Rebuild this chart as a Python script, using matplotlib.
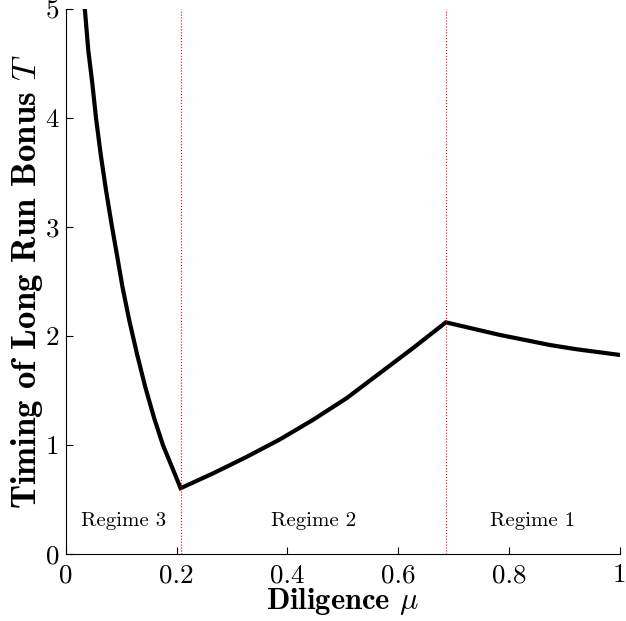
import matplotlib
matplotlib.use("Agg")
import matplotlib.pyplot as plt

# Werte
mu_r3 = [0.034, 0.0403, 0.0475, 0.0542, 0.0626, 0.0722, 0.0825, 0.0915, 0.102,
         0.114, 0.128, 0.143, 0.159, 0.175, 0.192, 0.207]
T_r3 = [5.0, 4.62, 4.32, 4.0, 3.67, 3.34, 3.02, 2.76, 2.45,
        2.15, 1.84, 1.535, 1.25, 1.0, 0.79, 0.603]

mu_r2 = [0.207, 0.266, 0.326, 0.386, 0.446, 0.507, 0.567, 0.627, 0.686]
T_r2 = [0.603, 0.74, 0.89, 1.05, 1.23, 1.43, 1.66, 1.89, 2.125]

mu_r1 = [0.686, 0.783, 0.874, 0.922, 1.0]
T_r1 = [2.125, 2.01, 1.917, 1.878, 1.826]

grenzen = [0.207, 0.686]
regime_namen = ["Regime 3", "Regime 2", "Regime 1"]
regime_x = [0.1035, 0.4465, 0.843]

xticks = [0, 0.2, 0.4, 0.6, 0.8, 1]
xtick_labels = ["0", "0.2", "0.4", "0.6", "0.8", "1"]
yticks = [0, 1, 2, 3, 4, 5]

plt.rcParams["font.family"] = "serif"
plt.rcParams["font.serif"] = ["cmr10"]
plt.rcParams["mathtext.fontset"] = "cm"
plt.rcParams["axes.formatter.use_mathtext"] = True

fig = plt.figure(figsize=(6.26, 6.21), dpi=100)
ax = fig.add_axes([0.1054, 0.108, 0.8846, 0.8775])

mu = mu_r3 + mu_r2[1:] + mu_r1[1:]
T = T_r3 + T_r2[1:] + T_r1[1:]
ax.plot(mu, T, color="black", lw=3, solid_joinstyle="miter")

for g in grenzen:
    ax.axvline(g, color="red", lw=0.8, ls=":")

for name, xr in zip(regime_namen, regime_x):
    ax.text(xr, 0.3, name, ha="center", va="center", fontsize=15)

ax.set_xlim(0, 1)
ax.set_ylim(0, 5)
ax.set_xticks(xticks)
ax.set_xticklabels(xtick_labels)
ax.set_yticks(yticks)
ax.set_yticklabels([str(v) for v in yticks])
ax.tick_params(direction="in", length=5, labelsize=19.5)
ax.tick_params(axis="x", pad=7)
ax.tick_params(axis="y", pad=5)

ax.spines["top"].set_visible(False)
ax.spines["right"].set_visible(False)

ax.set_xlabel(r"Diligence $\mu$", fontfamily="cmb10", fontsize=22, labelpad=-1)
ax.set_ylabel(r"Timing of Long Run Bonus $T$", fontfamily="cmb10", fontsize=25, labelpad=0)

fig.savefig("out.png", dpi=100)
